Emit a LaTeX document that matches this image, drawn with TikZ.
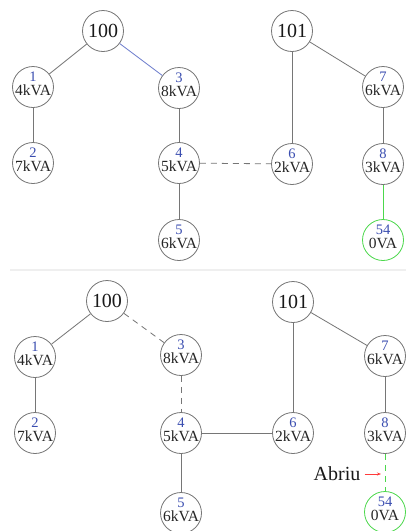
\documentclass[tikz,border=0pt]{standalone}
\usepackage{fontspec}
\setmainfont{Liberation Serif}
\usetikzlibrary{arrows.meta}
\definecolor{edgegray}{HTML}{767676}
\definecolor{numblue}{HTML}{3A4DB0}
\definecolor{linkblue}{HTML}{6A7ACC}
\definecolor{okgreen}{HTML}{4CD84C}
\definecolor{sepgray}{HTML}{EFEFEF}
\definecolor{abred}{HTML}{FF3B3B}
\newcommand\mkbus[6]{%
  \node[buscirc,#6] (#1) at (#2,#3) {};
  \node[numtxt] (#1num) at ([yshift=6pt]#1.center) {#4};
  \node[loadtxt] (#1load) at ([yshift=-8pt]#1.center) {#5};}
\tikzset{
  buscirc/.style={circle, draw=edgegray, fill=white, line width=0.8pt, minimum size=41pt, inner sep=0pt},
  greenbus/.style={draw=okgreen},
  numtxt/.style={anchor=base, inner sep=0pt, text=numblue, font=\fontsize{14.5}{14.5}\selectfont},
  loadtxt/.style={anchor=base, inner sep=0pt, text=black!85, font=\fontsize{15.5}{15.5}\selectfont},
  rootbus/.style={buscirc, font=\fontsize{20}{20}\selectfont, text=black!90},
  link/.style={draw=edgegray, line width=0.8pt},
  dlink/.style={link, dash pattern=on 6pt off 5pt},
  bluelink/.style={draw=linkblue, line width=0.8pt},
  greenlink/.style={draw=okgreen, line width=0.8pt},
  greendlink/.style={greenlink, dash pattern=on 6pt off 5pt},
  separator/.style={draw=sepgray, line width=1.5pt},
  abriutxt/.style={inner sep=0pt, font=\fontsize{20}{20}\selectfont, text=black!90},
  redarrow/.style={draw=abred, line width=0.6pt, -{Stealth[length=4pt,width=3pt]}}
}
\begin{document}
\begin{tikzpicture}[x=1pt,y=-1pt]
\useasboundingbox (0,0) rectangle (406,531);
\clip (0,0) rectangle (406,531);
\fill[white] (0,0) rectangle (406,531);
% ---------- top panel ----------
\node[rootbus] (tA) at (103,31) {100};
\node[rootbus] (tB) at (292,31) {101};
\mkbus{t1}{33}{87}{1}{4kVA}{}
\mkbus{t2}{33}{163}{2}{7kVA}{}
\mkbus{t3}{179}{88}{3}{8kVA}{}
\mkbus{t4}{179}{163}{4}{5kVA}{}
\mkbus{t5}{179}{240}{5}{6kVA}{}
\mkbus{t6}{292}{164}{6}{2kVA}{}
\mkbus{t7}{383}{87}{7}{6kVA}{}
\mkbus{t8}{383}{164}{8}{3kVA}{}
\mkbus{t54}{383}{240}{54}{0VA}{greenbus}
\draw[link] (tA) -- (t1);
\draw[bluelink] (tA) -- (t3);
\draw[link] (t1) -- (t2);
\draw[link] (t3) -- (t4);
\draw[link] (t4) -- (t5);
\draw[dlink] (t4) -- (t6);
\draw[link] (tB) -- (t6);
\draw[link] (tB) -- (t7);
\draw[link] (t7) -- (t8);
\draw[greenlink] (t8) -- (t54);
% ---------- separator ----------
\coordinate (sepL) at (10,270);
\coordinate (sepR) at (406,270);
\draw[separator] (sepL) -- (sepR);
% ---------- bottom panel ----------
\node[rootbus] (bA) at (107,301) {100};
\node[rootbus] (bB) at (293,302) {101};
\mkbus{b1}{35}{357}{1}{4kVA}{}
\mkbus{b2}{35}{433}{2}{7kVA}{}
\mkbus{b3}{181}{355}{3}{8kVA}{}
\mkbus{b4}{181}{433}{4}{5kVA}{}
\mkbus{b5}{181}{513}{5}{6kVA}{}
\mkbus{b6}{293}{433}{6}{2kVA}{}
\mkbus{b7}{385}{356}{7}{6kVA}{}
\mkbus{b8}{385}{433}{8}{3kVA}{}
\mkbus{b54}{385}{512}{54}{0VA}{greenbus}
\draw[link] (bA) -- (b1);
\draw[dlink] (bA) -- (b3);
\draw[link] (b1) -- (b2);
\draw[dlink] (b3) -- (b4);
\draw[link] (b4) -- (b5);
\draw[link] (b4) -- (b6);
\draw[link] (bB) -- (b6);
\draw[link] (bB) -- (b7);
\draw[link] (b7) -- (b8);
\draw[greendlink] (b8) -- (b54);
\node[abriutxt] (abriu) at (337,474) {Abriu};
\coordinate (abtip) at (381,474);
\draw[redarrow] ([xshift=4pt]abriu.east) -- (abtip);
\end{tikzpicture}
\end{document}
